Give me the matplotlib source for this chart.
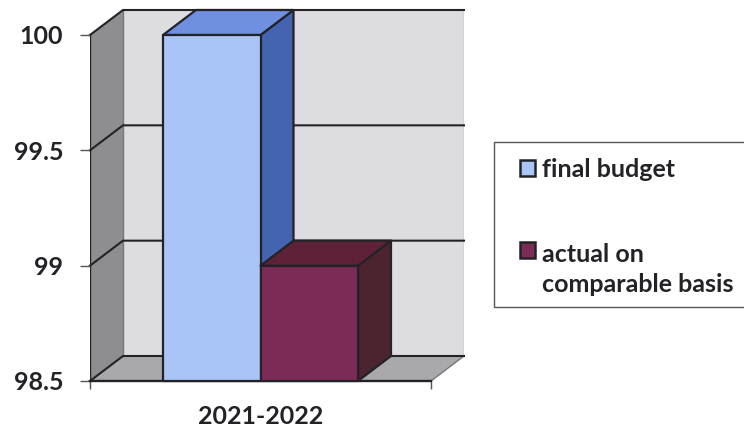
import matplotlib
matplotlib.use("Agg")
import matplotlib.pyplot as plt
from matplotlib.patches import Polygon, Patch, Rectangle

plt.rcParams["font.family"] = ["Lato", "DejaVu Sans"]
plt.rcParams["font.weight"] = "bold"

# Chart data
category = "2021-2022"
series_names = ["final budget", "actual on\ncomparable basis"]
series_values = [100, 99]
y_ticks = [98.5, 99, 99.5, 100]
y_tick_labels = ["98.5", "99", "99.5", "100"]

# Fills: front, top and side of each column
front_colors = ["#a9c4f6", "#7c2b56"]
top_colors = ["#6f90e0", "#5f2139"]
side_colors = ["#4464b2", "#4b2430"]
ink = "#232327"
font_size = 18

W, H = 744, 432
fig = plt.figure(figsize=(W / 100, H / 100), dpi=100, facecolor="white")

# Axes box spans the front plane plus the oblique depth of the 3-D box
left, right, top, bottom = 90, 464, 10, 381
ax = fig.add_axes([left / W, 1 - bottom / H, (right - left) / W, (bottom - top) / H])
front_w, front_h = 341, 346
y_min, y_max = y_ticks[0], y_ticks[-1]
dx = 33 / front_w
dy = 25 / front_h * (y_max - y_min)
ax.set_xlim(0, 1 + dx)
ax.set_ylim(y_min, y_max + dy)
for s in ax.spines.values():
    s.set_visible(False)
ax.patch.set_visible(False)


def poly(points, color, edge=ink, lw=1.6, z=2):
    ax.add_patch(Polygon(points, closed=True, facecolor=color, edgecolor=edge,
                         linewidth=lw, joinstyle="round", clip_on=False, zorder=z))


# Back wall, left wall and floor
poly([(dx, y_min + dy), (1 + dx, y_min + dy), (1 + dx, y_max + dy), (dx, y_max + dy)],
     "#dddde1", edge="none", z=1)
poly([(0, y_min), (dx, y_min + dy), (dx, y_max + dy), (0, y_max)], "#8e8d8f", edge="none", z=1)
poly([(0, y_min), (1, y_min), (1 + dx, y_min + dy), (dx, y_min + dy)], "#a9a8ab", edge="none", z=1)

# Gridlines folded across the left wall and back wall
for v in y_ticks:
    ax.plot([0, dx, 1 + dx], [v, v + dy, v + dy], color=ink, lw=1.5, zorder=1.5, clip_on=False,
            solid_joinstyle="round")
ax.plot([0, 0], [y_min, y_max], color=ink, lw=1.7, zorder=1.6)
ax.plot([dx, dx], [y_min + dy, y_max + dy], color="#77767a", lw=1.0, zorder=1.4)
ax.plot([1 + dx, 1 + dx], [y_min + dy, y_max + dy], color="#a5a5a8", lw=1.0, zorder=1.4)
ax.plot([1, 1 + dx], [y_min, y_min + dy], color="#77767a", lw=1.0, zorder=1.4)
ax.plot([0, 1], [y_min, y_min], color=ink, lw=1.7, zorder=1.6, clip_on=False)

# Columns: two side by side, centred in the category with equal gaps
bar_w = 97.5 / front_w
x0 = 0.5 - bar_w
for i, v in enumerate(series_values):
    xl, xr = x0 + i * bar_w, x0 + (i + 1) * bar_w
    poly([(xr, y_min), (xr + dx, y_min + dy), (xr + dx, v + dy), (xr, v)], side_colors[i], z=3 + i)
    poly([(xl, v), (xr, v), (xr + dx, v + dy), (xl + dx, v + dy)], top_colors[i], z=3 + i)
    poly([(xl, y_min), (xr, y_min), (xr, v), (xl, v)], front_colors[i], z=3 + i)

# Axis ticks and labels
ax.set_yticks(y_ticks, y_tick_labels, fontsize=font_size, color=ink)
ax.tick_params(axis="y", length=7.2, width=1.0, color="#555555", pad=12)
ax.set_xticks([0, 1], ["", ""])
ax.set_xticks([0.5], [category], minor=True, fontsize=font_size, color=ink)
ax.tick_params(axis="x", which="major", length=5.8, width=1.0, color="#555555")
ax.tick_params(axis="x", which="minor", length=0, pad=17)

# Legend box, running off the right-hand side
fig.add_artist(Rectangle((494 / W, 1 - 307 / H), 270 / W, 165 / H, transform=fig.transFigure,
                         facecolor="white", edgecolor="#555555", linewidth=1.0))
handles = [Patch(facecolor=c, edgecolor=ink, linewidth=1.8) for c in front_colors]
leg = fig.legend(handles, series_names, loc="lower left",
                 bbox_to_anchor=(496 / W, 1 - 307 / H, 248 / W, 165 / H),
                 fontsize=font_size, labelcolor=ink, frameon=False, borderaxespad=0,
                 borderpad=0.44, labelspacing=2.5, handlelength=1.16, handletextpad=0.24,
                 ncols=1)
leg.get_texts()[1].set_linespacing(1.36)

# Square swatches, indented, with the second one level with its first text line
swatch = 11.0
for rect, lift in zip(leg.legend_handles, [1.2, 16.0]):
    rect.set_bounds(9.0, rect.get_y() - 0.5 + lift, swatch, swatch)

fig.savefig("out.png", dpi=100, facecolor="white")
